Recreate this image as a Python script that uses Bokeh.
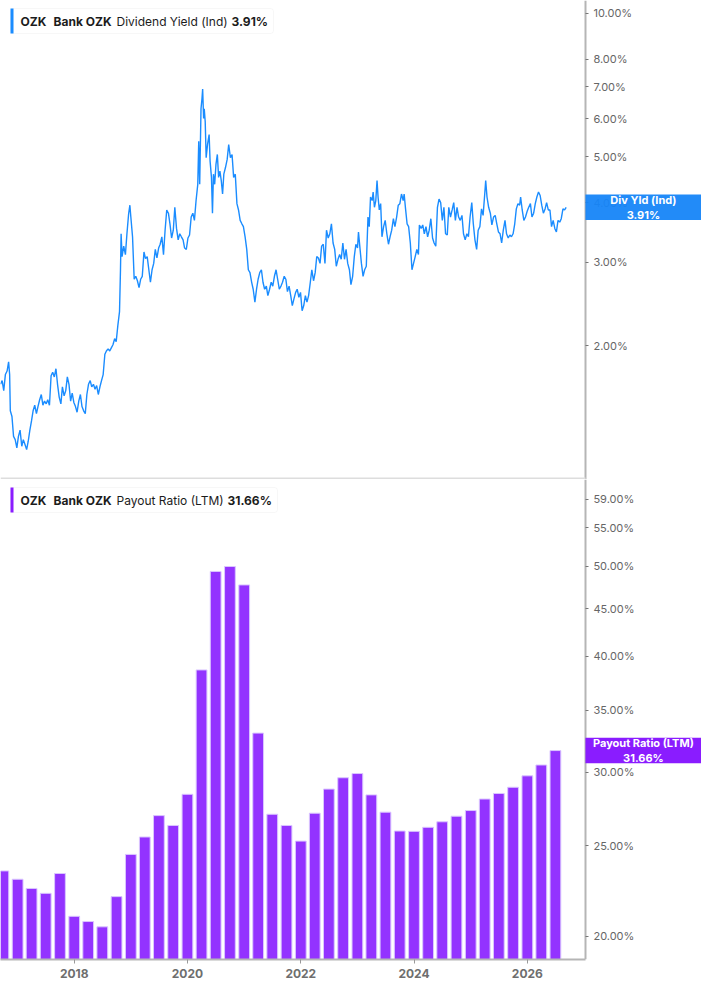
from datetime import datetime

import pandas as pd
from bokeh.core.properties import value
from bokeh.embed import file_html
from bokeh.layouts import column
from bokeh.models import (BoxAnnotation, DatetimeTickFormatter, FixedTicker,
                          Label, LogAxis, PrintfTickFormatter, Range1d)
from bokeh.plotting import figure
from bokeh.resources import INLINE

# dividend yield (ind), % -- dates as decimal years
yield_years = [
    2016.698, 2016.727, 2016.755, 2016.784, 2016.814, 2016.841, 2016.859, 2016.871, 2016.900, 2016.928,
    2016.957, 2016.986, 2017.014, 2017.043, 2017.073, 2017.100, 2017.130, 2017.159, 2017.187, 2017.216,
    2017.245, 2017.273, 2017.302, 2017.332, 2017.359, 2017.389, 2017.418, 2017.446, 2017.475, 2017.505,
    2017.532, 2017.562, 2017.591, 2017.619, 2017.648, 2017.677, 2017.705, 2017.734, 2017.764, 2017.791,
    2017.821, 2017.850, 2017.878, 2017.907, 2017.936, 2017.964, 2017.993, 2018.022, 2018.050, 2018.080,
    2018.109, 2018.137, 2018.166, 2018.195, 2018.223, 2018.252, 2018.282, 2018.309, 2018.339, 2018.368,
    2018.396, 2018.425, 2018.454, 2018.482, 2018.511, 2018.541, 2018.568, 2018.598, 2018.627, 2018.655,
    2018.684, 2018.714, 2018.741, 2018.771, 2018.800, 2018.817, 2018.828, 2018.845, 2018.874, 2018.904,
    2018.931, 2018.961, 2018.983, 2019.000, 2019.030, 2019.059, 2019.087, 2019.116, 2019.145, 2019.173,
    2019.202, 2019.232, 2019.259, 2019.289, 2019.318, 2019.346, 2019.375, 2019.404, 2019.432, 2019.461,
    2019.491, 2019.518, 2019.548, 2019.577, 2019.605, 2019.634, 2019.664, 2019.691, 2019.720, 2019.750,
    2019.777, 2019.807, 2019.836, 2019.864, 2019.893, 2019.923, 2019.950, 2019.980, 2020.009, 2020.037,
    2020.066, 2020.095, 2020.123, 2020.152, 2020.182, 2020.199, 2020.216, 2020.239, 2020.256, 2020.268,
    2020.285, 2020.296, 2020.313, 2020.330, 2020.354, 2020.382, 2020.399, 2020.423, 2020.441, 2020.458,
    2020.480, 2020.503, 2020.527, 2020.549, 2020.572, 2020.596, 2020.619, 2020.641, 2020.670, 2020.700,
    2020.727, 2020.757, 2020.786, 2020.814, 2020.843, 2020.872, 2020.900, 2020.929, 2020.959, 2020.986,
    2021.016, 2021.045, 2021.073, 2021.102, 2021.132, 2021.159, 2021.189, 2021.218, 2021.246, 2021.275,
    2021.304, 2021.332, 2021.361, 2021.391, 2021.418, 2021.448, 2021.477, 2021.505, 2021.534, 2021.563,
    2021.591, 2021.620, 2021.650, 2021.677, 2021.707, 2021.736, 2021.764, 2021.793, 2021.822, 2021.850,
    2021.879, 2021.909, 2021.936, 2021.966, 2021.995, 2022.023, 2022.052, 2022.081, 2022.109, 2022.138,
    2022.168, 2022.195, 2022.225, 2022.254, 2022.282, 2022.311, 2022.340, 2022.368, 2022.397, 2022.427,
    2022.454, 2022.484, 2022.513, 2022.541, 2022.570, 2022.599, 2022.627, 2022.657, 2022.686, 2022.714,
    2022.743, 2022.772, 2022.800, 2022.829, 2022.859, 2022.886, 2022.916, 2022.945, 2022.973, 2023.002,
    2023.019, 2023.042, 2023.071, 2023.100, 2023.128, 2023.157, 2023.187, 2023.209, 2023.232, 2023.261,
    2023.278, 2023.301, 2023.325, 2023.347, 2023.365, 2023.387, 2023.411, 2023.434, 2023.463, 2023.491,
    2023.520, 2023.549, 2023.577, 2023.606, 2023.636, 2023.663, 2023.693, 2023.722, 2023.750, 2023.779,
    2023.809, 2023.826, 2023.848, 2023.878, 2023.905, 2023.935, 2023.964, 2023.992, 2024.021, 2024.050,
    2024.078, 2024.095, 2024.125, 2024.154, 2024.182, 2024.211, 2024.240, 2024.268, 2024.297, 2024.327,
    2024.354, 2024.384, 2024.413, 2024.441, 2024.470, 2024.499, 2024.527, 2024.556, 2024.586, 2024.613,
    2024.643, 2024.672, 2024.700, 2024.729, 2024.758, 2024.786, 2024.815, 2024.845, 2024.872, 2024.902,
    2024.931, 2024.959, 2024.988, 2025.018, 2025.045, 2025.074, 2025.104, 2025.131, 2025.161, 2025.190,
    2025.218, 2025.247, 2025.264, 2025.287, 2025.316, 2025.346, 2025.373, 2025.403, 2025.432, 2025.460,
    2025.489, 2025.518, 2025.546, 2025.575, 2025.605, 2025.632, 2025.662, 2025.691, 2025.719, 2025.748,
    2025.777, 2025.805, 2025.834, 2025.864, 2025.881, 2025.909, 2025.938, 2025.967, 2025.995, 2026.024,
    2026.054, 2026.081, 2026.111, 2026.140, 2026.168, 2026.197, 2026.226, 2026.254, 2026.283, 2026.313,
    2026.340, 2026.370, 2026.399, 2026.427, 2026.456, 2026.485, 2026.513, 2026.542, 2026.572, 2026.599,
    2026.629, 2026.658, 2026.686,
]
yield_values = [
    1.66, 1.69, 1.61, 1.74, 1.77, 1.85, 1.74, 1.46, 1.42, 1.29,
    1.27, 1.22, 1.29, 1.33, 1.23, 1.27, 1.24, 1.21, 1.26, 1.33,
    1.39, 1.46, 1.50, 1.44, 1.49, 1.54, 1.58, 1.50, 1.53, 1.51,
    1.54, 1.50, 1.73, 1.76, 1.72, 1.79, 1.66, 1.56, 1.51, 1.64,
    1.57, 1.61, 1.72, 1.66, 1.53, 1.59, 1.52, 1.49, 1.45, 1.53,
    1.58, 1.49, 1.46, 1.44, 1.58, 1.66, 1.69, 1.64, 1.66, 1.62,
    1.65, 1.58, 1.64, 1.69, 1.74, 1.92, 1.95, 1.97, 1.95, 1.98,
    2.01, 2.07, 2.04, 2.21, 2.36, 2.89, 3.44, 3.08, 3.24, 3.11,
    3.44, 3.79, 3.95, 3.73, 3.39, 2.76, 2.80, 2.74, 2.65, 2.76,
    2.80, 3.15, 3.05, 3.08, 2.89, 2.72, 2.89, 2.98, 3.19, 3.06,
    3.21, 3.27, 3.39, 3.11, 3.50, 3.86, 3.80, 3.61, 3.37, 3.50,
    3.91, 3.53, 3.34, 3.44, 3.39, 3.34, 3.21, 3.19, 3.37, 3.42,
    3.73, 3.80, 3.67, 4.04, 4.37, 5.38, 4.37, 6.30, 6.61, 6.93,
    6.01, 6.30, 5.92, 4.97, 5.30, 5.56, 4.89, 4.52, 3.80, 4.59,
    4.37, 4.82, 5.05, 4.52, 4.66, 4.45, 4.17, 4.59, 4.74, 4.93,
    5.30, 4.97, 5.05, 4.52, 4.59, 3.98, 3.86, 3.67, 3.61, 3.56,
    3.39, 3.19, 2.89, 2.85, 2.72, 2.63, 2.47, 2.63, 2.76, 2.85,
    2.89, 2.72, 2.63, 2.67, 2.55, 2.63, 2.72, 2.67, 2.80, 2.89,
    2.76, 2.63, 2.67, 2.72, 2.80, 2.76, 2.60, 2.67, 2.55, 2.43,
    2.51, 2.59, 2.63, 2.53, 2.59, 2.37, 2.43, 2.55, 2.47, 2.55,
    2.72, 2.89, 2.74, 2.85, 3.08, 3.06, 2.98, 3.24, 3.27, 2.98,
    3.50, 3.37, 3.44, 3.61, 3.29, 3.19, 2.94, 3.04, 3.11, 3.04,
    3.29, 3.04, 3.19, 2.98, 2.89, 2.69, 2.80, 3.08, 3.27, 3.21,
    3.47, 3.24, 2.98, 2.80, 2.89, 2.94, 3.73, 3.56, 4.11, 4.04,
    4.21, 3.91, 4.04, 4.45, 4.11, 3.86, 3.98, 3.39, 3.56, 3.67,
    3.44, 3.27, 3.39, 3.50, 3.70, 3.56, 3.73, 3.95, 3.98, 4.17,
    4.04, 4.17, 3.91, 3.61, 3.56, 3.29, 2.89, 2.98, 3.08, 3.19,
    3.11, 3.59, 3.53, 3.59, 3.44, 3.56, 3.39, 3.50, 3.70, 3.37,
    3.29, 3.24, 3.91, 4.07, 4.00, 3.67, 3.91, 3.44, 3.42, 3.91,
    3.73, 3.86, 4.00, 3.67, 3.91, 3.73, 3.67, 3.76, 3.44, 3.34,
    3.44, 3.39, 3.73, 4.00, 3.61, 3.34, 3.19, 3.50, 3.56, 3.88,
    3.76, 4.17, 4.45, 4.11, 3.91, 3.80, 3.59, 3.73, 3.76, 3.61,
    3.47, 3.44, 3.29, 3.50, 3.67, 3.44, 3.37, 3.42, 3.39, 3.44,
    3.61, 3.88, 3.98, 3.95, 4.11, 3.86, 3.67, 3.73, 3.83, 3.91,
    3.98, 3.73, 3.80, 3.98, 4.11, 4.21, 4.14, 3.95, 3.80, 3.88,
    4.00, 3.86, 3.86, 3.56, 3.67, 3.53, 3.47, 3.67, 3.64, 3.70,
    3.88, 3.86, 3.91,
]

# payout ratio (LTM), % per quarter
payout_quarters = [
    "2016Q4",
    "2017Q1", "2017Q2", "2017Q3", "2017Q4",
    "2018Q1", "2018Q2", "2018Q3", "2018Q4",
    "2019Q1", "2019Q2", "2019Q3", "2019Q4",
    "2020Q1", "2020Q2", "2020Q3", "2020Q4",
    "2021Q1", "2021Q2", "2021Q3", "2021Q4",
    "2022Q1", "2022Q2", "2022Q3", "2022Q4",
    "2023Q1", "2023Q2", "2023Q3", "2023Q4",
    "2024Q1", "2024Q2", "2024Q3", "2024Q4",
    "2025Q1", "2025Q2", "2025Q3", "2025Q4",
    "2026Q1", "2026Q2", "2026Q3",
]
payout_values = [
    23.50,
    23.02, 22.50, 22.23, 23.35,
    21.00, 20.73, 20.46, 22.05,
    24.48, 25.56, 26.95, 26.30,
    28.41, 38.66, 49.34, 49.95,
    47.72, 33.06, 27.04, 26.30,
    25.30, 27.11, 28.78, 29.60,
    29.91, 28.37, 27.18, 25.94,
    25.92, 26.18, 26.54, 26.91,
    27.29, 28.08, 28.47, 28.91,
    29.74, 30.55, 31.66,
]

yield_ticks = [2, 3, 4, 5, 6, 7, 8, 10]
payout_ticks = [20, 25, 30, 35, 40, 45, 50, 55, 59]
year_ticks = [2018, 2020, 2022, 2024, 2026]

FONT = "Inter"
BLUE = "#1a8cff"
BLUE_BOX = "#1685f8"
PURPLE = "#9333ff"
PURPLE_BOX = "#8a1cff"
W_FRAME = 701       # full width; the price axis sits inside at AXIS_PX
AXIS_PX = 585
H_TOP = 479
H_BOT = 480


def to_dt(y):
    base = datetime(int(y), 1, 1)
    nxt = datetime(int(y) + 1, 1, 1)
    return base + (nxt - base) * (y - int(y))


def to_ms(d):
    return (d - datetime(1970, 1, 1)).total_seconds() * 1000.0


yield_dates = [to_dt(y) for y in yield_years]
bar_dates = [pd.Period(q, freq="Q").start_time.to_pydatetime() for q in payout_quarters]
bar_width = 0.76 * 91.3 * 86400000

x_start, x_axis = 2016.698, 2027.026
x_end = x_start + (x_axis - x_start) * W_FRAME / AXIS_PX
axis_dt, end_dt = to_dt(x_axis), to_dt(x_end)
mid_dt = to_dt((x_axis + x_end) / 2)


def add_right_axis(p, ticks):
    ax = LogAxis(fixed_location=to_ms(axis_dt))
    ax.ticker = FixedTicker(ticks=ticks)
    ax.formatter = PrintfTickFormatter(format="%.2f%%")
    ax.axis_line_color = "#b5b5b5"
    ax.axis_line_width = 2
    ax.major_tick_line_color = "#777777"
    ax.major_tick_out = 3
    ax.major_tick_in = 0
    ax.minor_tick_line_color = None
    ax.major_label_text_font = FONT
    ax.major_label_text_font_size = "11px"
    ax.major_label_text_color = "#666666"
    ax.major_label_standoff = 5
    p.add_layout(ax, "right")


def add_legend(p, fh, color, parts, right):
    top, bottom = fh - 8, fh - 33
    p.add_layout(BoxAnnotation(left=10, right=right, top=top, bottom=bottom,
                               left_units="screen", right_units="screen",
                               top_units="screen", bottom_units="screen",
                               fill_color="white", fill_alpha=1.0,
                               line_color="#e3e3e3", line_width=1, border_radius=3))
    p.add_layout(BoxAnnotation(left=10, right=13, top=top, bottom=bottom,
                               left_units="screen", right_units="screen",
                               top_units="screen", bottom_units="screen",
                               fill_color=color, fill_alpha=1.0, line_color=None))
    for text, x, bold in parts:
        p.add_layout(Label(x=x, y=(top + bottom) / 2, x_units="screen", y_units="screen",
                           text=text, text_font=FONT, text_font_size="12px",
                           text_font_style="bold" if bold else "normal",
                           text_color="#1c1c1c", text_baseline="middle"))


def add_value_box(p, val, factor, color, alpha, text):
    p.quad(left=[axis_dt], right=[end_dt], bottom=[val / factor], top=[val * factor],
           fill_color=color, fill_alpha=alpha, line_color=None, level="overlay")
    p.text(x=[mid_dt], y=[val], text=[text], text_font=value(FONT),
           text_font_size=value("11px"), text_font_style=value("bold"),
           text_color="white", text_align=value("center"),
           text_baseline=value("middle"), text_line_height=1.05, level="overlay")


def base_figure(fh, y_range, x_range=None):
    p = figure(frame_width=W_FRAME, frame_height=fh, x_axis_type="datetime",
               y_axis_type="log", x_range=x_range or Range1d(to_dt(x_start), end_dt),
               y_range=y_range, y_axis_location=None, toolbar_location=None,
               output_backend="svg", min_border=0)
    p.xgrid.visible = False
    p.ygrid.visible = False
    p.outline_line_color = None
    p.background_fill_color = "white"
    p.border_fill_color = "white"
    return p


# top panel: dividend yield
p1 = base_figure(H_TOP, Range1d(1.047, 10.64))
p1.xaxis.visible = False
p1.line(yield_dates, yield_values, line_color=BLUE, line_width=1.4)
p1.add_layout(BoxAnnotation(left=0, right=AXIS_PX, bottom=0, top=2,
                            left_units="screen", right_units="screen",
                            top_units="screen", bottom_units="screen",
                            fill_color="#dddddd", fill_alpha=1.0, line_color=None))
add_right_axis(p1, yield_ticks)
add_legend(p1, H_TOP, BLUE,
           [("OZK", 20, True), ("Bank OZK", 53, True),
            ("Dividend Yield (Ind)", 116, False), ("3.91%", 231, True)], 273)
add_value_box(p1, yield_values[-1], 1.064, BLUE_BOX, 0.95, "Div Yld (Ind)\n3.91%")

# bottom panel: payout ratio
p2 = base_figure(H_BOT, Range1d(18.87, 61.96), x_range=p1.x_range)
p2.vbar(x=bar_dates, top=payout_values, bottom=10, width=bar_width,
        fill_color=PURPLE, line_color="#dac6ff", line_width=1)
add_right_axis(p2, payout_ticks)
xa = p2.xaxis[0]
xa.bounds = (to_ms(to_dt(x_start)), to_ms(axis_dt))
xa.ticker = FixedTicker(ticks=[to_ms(datetime(y, 1, 1)) for y in year_ticks])
xa.formatter = DatetimeTickFormatter(years="%Y", months="%Y", days="%Y",
                                     hours="%Y", minutes="%Y", seconds="%Y")
xa.axis_line_color = "#b5b5b5"
xa.axis_line_width = 2
xa.major_tick_line_color = "#999999"
xa.major_tick_out = 4
xa.major_tick_in = 0
xa.minor_tick_line_color = None
xa.major_label_text_font = FONT
xa.major_label_text_font_size = "12px"
xa.major_label_text_font_style = "bold"
xa.major_label_text_color = "#6e6e6e"
xa.major_label_standoff = 5
add_legend(p2, H_BOT, PURPLE_BOX,
           [("OZK", 20, True), ("Bank OZK", 53, True),
            ("Payout Ratio (LTM)", 116, False), ("31.66%", 227, True)], 277)
add_value_box(p2, payout_values[-1], 1.032, PURPLE_BOX, 1.0, "Payout Ratio (LTM)\n31.66%")

layout = column(p1, p2, spacing=0)
open("out.html", "w").write(file_html(layout, INLINE))
